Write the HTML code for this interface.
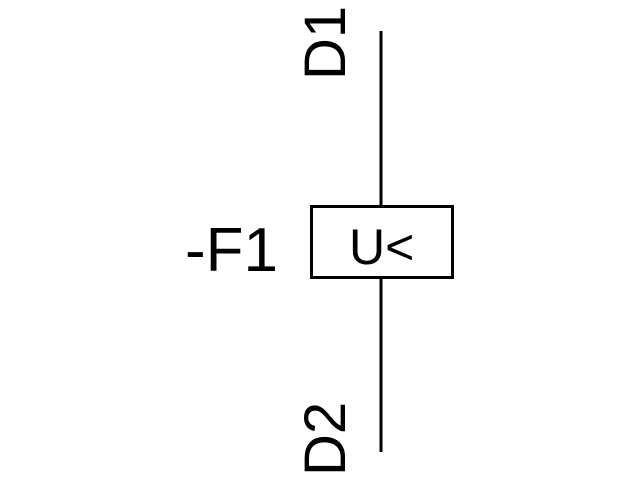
<!DOCTYPE html>
<html><head><style>html,body{margin:0;background:#fff}</style></head><body>
<svg width="640" height="480" xmlns="http://www.w3.org/2000/svg" style="display:block">
<g stroke="#000" stroke-width="3" fill="none">
<line x1="381" y1="31" x2="381" y2="206"/>
<line x1="381" y1="278" x2="381" y2="452"/>
<rect x="311.5" y="206.5" width="141" height="71"/>
</g>
<g font-family="Liberation Sans, sans-serif" fill="#000">
<text x="185" y="271" font-size="62">-F1</text>
<text x="349" y="264" font-size="50">U&lt;</text>
<text transform="translate(345,80) rotate(-90)" font-size="58">D1</text>
<text transform="translate(345,476) rotate(-90)" font-size="58">D2</text>
</g>
</svg>
</body></html>
